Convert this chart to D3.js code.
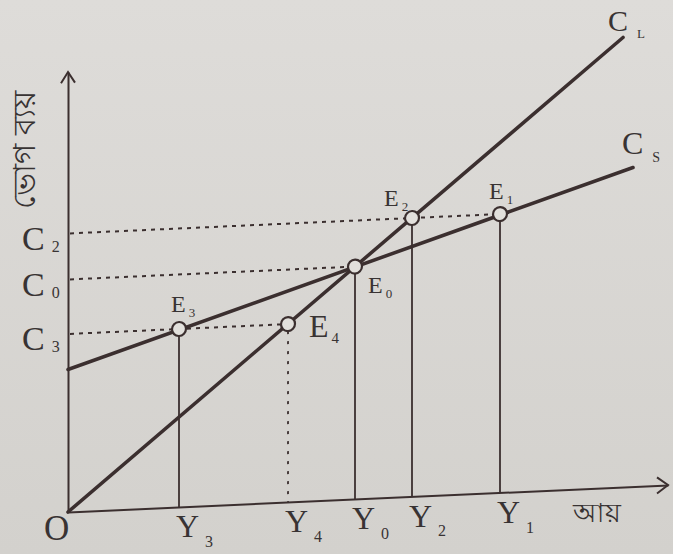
<!DOCTYPE html>
<html>
<head>
<meta charset="utf-8">
<script src="https://cdn.jsdelivr.net/npm/d3@7"></script>
<style>
  body { margin: 0; background: #d9d7d4; }
  svg { display: block; }
</style>
</head>
<body>
<svg id="chart" width="673" height="554"></svg>
<script>
// values (income on x, consumption on y)
const incomeSubs = ["3", "4", "0", "2", "1"];
const incomeValues = [2.22, 4.4, 5.74, 6.88, 8.64];
const pointSubs = ["3", "4", "0", "2", "1"];
const pointConsumption = [3.56, 3.56, 4.65, 5.57, 5.57];
const consumptionSubs = ["2", "0", "3"];
const consumptionValues = [5.57, 4.65, 3.56];
const longRunLine = [[0, 0], [11.1, 8.99]];
const shortRunLine = [[0, 2.85], [11.3, 6.38]];
const xTitle = "আয়";
const yTitle = "ভোগ ব্যয়";

const ox = 68, oy = 512;
const tilt = -2.58;                       // the page is photographed slightly tilted
const tanT = Math.tan(tilt * Math.PI / 180);
const ink = "#3b2f2f";
const textInk = "#383333";
const serif = "'Liberation Serif', 'DejaVu Serif', serif";

const x = d3.scaleLinear().domain([0, 12]).range([0, 600]);
const y = d3.scaleLinear().domain([0, 8.8]).range([0, -440]);

const svg = d3.select('#chart');

const grad = svg.append('defs').append('linearGradient')
    .attr('id', 'paper').attr('x1', 0).attr('y1', 0).attr('x2', 0).attr('y2', 1);
grad.append('stop').attr('offset', '0%').attr('stop-color', '#dedcd9');
grad.append('stop').attr('offset', '100%').attr('stop-color', '#d3d1cd');
svg.append('rect').attr('width', 673).attr('height', 554).attr('fill', 'url(#paper)');

const chart = svg.append('g')
    .attr('transform', `translate(${ox},${oy}) skewY(${tilt})`);

// axes
chart.append('g')
    .call(d3.axisBottom(x).tickValues([]).tickSizeOuter(0));
chart.append('g')
    .call(d3.axisLeft(y).tickValues([]).tickSizeOuter(0));
chart.selectAll('.domain').attr('stroke', ink).attr('stroke-width', 2);

chart.append('path')
    .attr('d', `M${x(12) - 11},-8L${x(12)},0L${x(12) - 11},8`)
    .attr('fill', 'none').attr('stroke', ink).attr('stroke-width', 2);
chart.append('path')
    .attr('d', `M-7,${y(8.8) + 11}L0,${y(8.8)}L7,${y(8.8) + 11}`)
    .attr('fill', 'none').attr('stroke', ink).attr('stroke-width', 2);

// dotted guides from the consumption axis
consumptionValues.forEach(c => {
    const far = d3.max(incomeValues.filter((v, i) => pointConsumption[i] === c));
    chart.append('line')
        .attr('x1', 2).attr('x2', x(far) - 7)
        .attr('y1', y(c)).attr('y2', y(c))
        .attr('stroke', ink).attr('stroke-width', 2)
        .attr('stroke-dasharray', '4,5');
});

// drop lines to the income axis
incomeValues.forEach((v, i) => {
    chart.append('line')
        .attr('x1', x(v)).attr('x2', x(v))
        .attr('y1', y(pointConsumption[i]) + 7).attr('y2', 0)
        .attr('stroke', ink).attr('stroke-width', 1.8)
        .attr('stroke-dasharray', incomeSubs[i] === "4" ? '3,7' : null);
});

// consumption functions
const line = d3.line().x(d => x(d[0])).y(d => y(d[1]));
[longRunLine, shortRunLine].forEach(pts => {
    chart.append('path')
        .attr('d', line(pts))
        .attr('fill', 'none').attr('stroke', ink).attr('stroke-width', 3.6)
        .attr('stroke-linecap', 'round');
});

// equilibrium points
chart.selectAll('circle')
    .data(incomeValues)
    .join('circle')
    .attr('cx', d => x(d))
    .attr('cy', (d, i) => y(pointConsumption[i]))
    .attr('r', 7)
    .attr('fill', '#e2e0dc')
    .attr('stroke', ink).attr('stroke-width', 2.2);

// labels (kept upright, placed on the tilted page)
const labels = svg.append('g').attr('transform', `translate(${ox},${oy})`)
    .attr('fill', textInk).attr('font-family', serif);
const P = (a, b) => [x(a), y(b) + tanT * x(a)];

function subLabel(px, py, main, sub, size, subSize, dx, dy) {
    const t = labels.append('text').attr('x', px).attr('y', py).attr('font-size', size);
    t.append('tspan').text(main);
    t.append('tspan').attr('dx', dx).attr('dy', dy).attr('font-size', subSize).text(sub);
}

// income axis labels
incomeValues.forEach((v, i) => {
    const [px, py] = P(v, 0);
    subLabel(px - 3, py + 30, "Y", incomeSubs[i], 32, 16, 6, 10);
});
labels.append('text').attr('x', -24).attr('y', 28).attr('font-size', 35).text("O");

// consumption axis labels
consumptionValues.forEach((c, i) => {
    const [px, py] = P(0, c);
    subLabel(px - 46, py + 16, "C", consumptionSubs[i], 34, 16, 7, 2);
});

// point labels
const pointOffsets = { "3": [-8, -17], "4": [21, 13], "0": [13, 26], "2": [-28, -12], "1": [-11, -15] };
incomeValues.forEach((v, i) => {
    const [px, py] = P(v, pointConsumption[i]);
    const [dx, dy] = pointOffsets[pointSubs[i]];
    const big = pointSubs[i] === "4";
    subLabel(px + dx, py + dy, "E", pointSubs[i], big ? 32 : 24, big ? 15 : 13, 3, big ? 6 : 5);
});

// line names
{
    const [px, py] = P(longRunLine[1][0], longRunLine[1][1]);
    subLabel(px - 15, py - 7, "C", "L", 30, 13, 9, 7);
}
{
    const [px, py] = P(shortRunLine[1][0], shortRunLine[1][1]);
    subLabel(px - 11, py - 14, "C", "S", 32, 14, 9, 8);
}

// axis titles (Bengali)
{
    const [px, py] = P(10.1, 0);
    labels.append('text').attr('x', px).attr('y', py + 33)
        .attr('font-family', "'Noto Sans', sans-serif").attr('font-size', 27).text(xTitle);
}
labels.append('text')
    .attr('transform', `translate(${-33},${-362}) rotate(-90)`)
    .attr('text-anchor', 'middle')
    .attr('font-family', "'Noto Sans', sans-serif").attr('font-size', 31).text(yTitle);
</script>
</body>
</html>
